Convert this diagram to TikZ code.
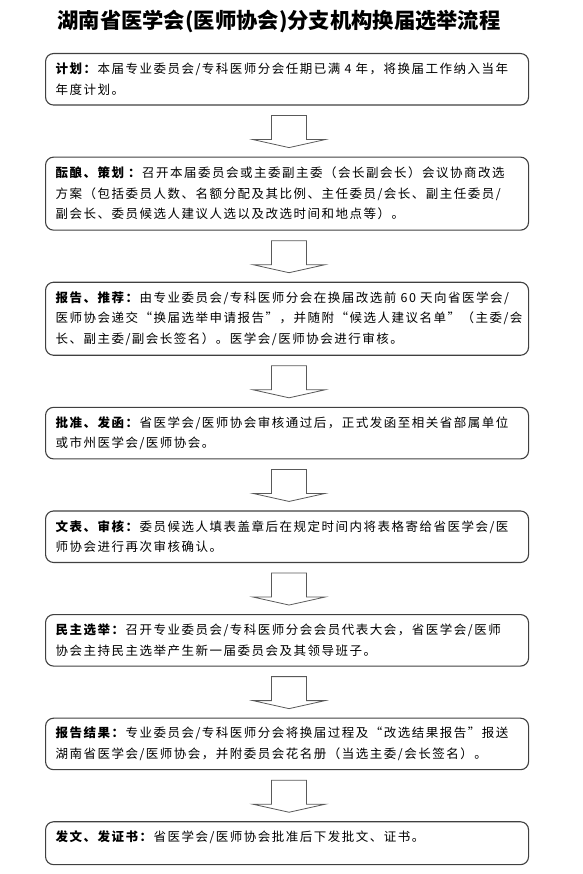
\documentclass[tikz,border=0pt]{standalone}
\usepackage{fontspec}
\newfontfamily\cjk[LetterSpace=12]{Noto Sans CJK SC}
\newfontfamily\cjktitle{Noto Sans CJK SC}
\usetikzlibrary{positioning, calc}

\begin{document}
\begin{tikzpicture}[
        x=1pt, y=-1pt,
        node distance=51pt,
        stepbox/.style={draw=black!75, line width=1.1pt, rounded corners=8pt,
            text width=463pt, inner xsep=10pt, inner ysep=9pt, align=left,
            font=\cjk\fontsize{12.5}{20.5}\selectfont},
        twoline/.style={stepbox, minimum height=51.5pt},
        threeline/.style={stepbox, minimum height=73pt},
        blockarrow/.style={draw=black!65, line width=0.8pt, line join=miter}
    ]
        \useasboundingbox (0,0) rectangle (582,874);
        \node[font=\cjktitle\bfseries\fontsize{21.3}{24}\selectfont] (title) at (279,21)
            {湖南省医学会(医师协会)分支机构换届选举流程};
        \node[twoline, anchor=north west] (b1) at (45,53)
            {\textbf{计划：}本届专业委员会/专科医师分会任期已满 4 年，将换届工作纳入当年\\
             年度计划。};
        \node[threeline, below=of b1] (b2)
            {\textbf{酝酿、策划 ：}召开本届委员会或主委副主委（会长副会长）会议协商改选\\
             方案（包括委员人数、名额分配及其比例、主任委员/会长、副主任委员/\\
             副会长、委员候选人建议人选以及改选时间和地点等）。};
        \node[threeline, below=of b2] (b3)
            {\textbf{报告、推荐：}由专业委员会/专科医师分会在换届改选前 60 天向省医学会/\\
             医师协会递交“换届选举申请报告”，并随附“候选人建议名单”（主委/会\\
             长、副主委/副会长签名）。医学会/医师协会进行审核。};
        \node[twoline, below=of b3] (b4)
            {\textbf{批准、发函：}省医学会/医师协会审核通过后，正式发函至相关省部属单位\\
             或市州医学会/医师协会。};
        \node[twoline, below=of b4] (b5)
            {\textbf{文表、审核：}委员候选人填表盖章后在规定时间内将表格寄给省医学会/医\\
             师协会进行再次审核确认。};
        \node[twoline, below=of b5] (b6)
            {\textbf{民主选举：}召开专业委员会/专科医师分会会员代表大会，省医学会/医师\\
             协会主持民主选举产生新一届委员会及其领导班子。};
        \node[twoline, below=of b6] (b7)
            {\textbf{报告结果：}专业委员会/专科医师分会将换届过程及“改选结果报告”报送\\
             湖南省医学会/医师协会，并附委员会花名册（当选主委/会长签名）。};
        \node[stepbox, text depth=14pt, below=of b7] (b8)
            {\textbf{发文、发证书：}省医学会/医师协会批准后下发批文、证书。};
        % hollow arrows between the steps
        \foreach \i/\j in {1/2, 2/3, 3/4, 4/5, 5/6, 6/7, 7/8}
            \draw[blockarrow] ($(b\i.south)+(-15.5,10)$) -- ++(0,24) -- ++(-18.5,0)
                -- ++(36,8) -- ++(36,-8) -- ++(-18.5,0) -- ++(0,-24) -- cycle;
\end{tikzpicture}
\end{document}
